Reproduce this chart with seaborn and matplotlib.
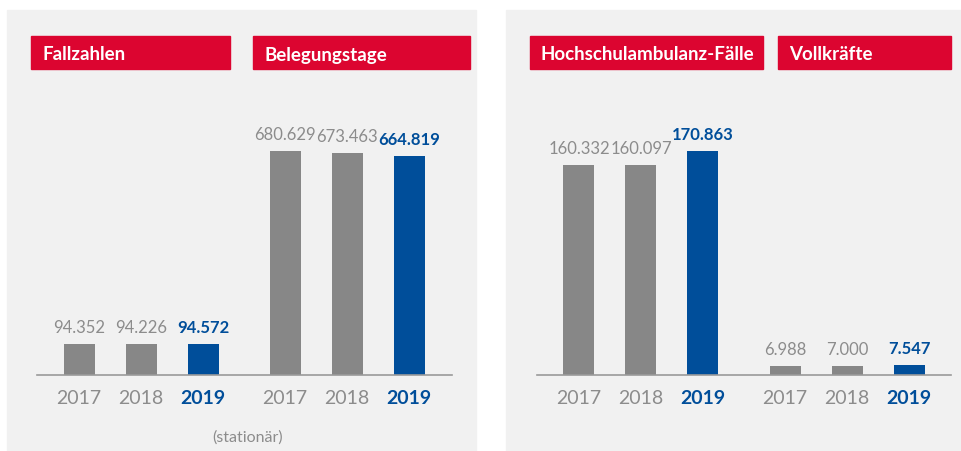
import seaborn as sns
import matplotlib.pyplot as plt
import pandas as pd
from matplotlib.patches import Rectangle

# Daten
years = ['2017', '2018', '2019']
fallzahlen = [94352, 94226, 94572]
belegungstage = [680629, 673463, 664819]
ambulanz = [160332, 160097, 170863]
vollkraefte = [6988, 7000, 7547]

titles_left = ['Fallzahlen', 'Belegungstage']
titles_right = ['Hochschulambulanz-Fälle', 'Vollkräfte']

# Farben
RED = '#DC0530'
BLUE = '#004E9A'
GRAY_BAR = '#878787'
GRAY_TXT = '#8C8C8C'
PANEL = '#F1F1F1'
palette = {'2017': GRAY_BAR, '2018': GRAY_BAR, '2019': BLUE}

sns.set_style('white')
plt.rcParams['font.family'] = ['Lato', 'DejaVu Sans']

W, H = 962, 452
fig = plt.figure(figsize=(W / 100, H / 100), dpi=100)


def fx(px):
    return px / W


def fy(py):
    return 1 - py / H


def fmt(v):
    return f'{v:,}'.replace(',', '.')


def panel(x0, x1, base_x0, base_x1, series, titles, boxes):
    # grauer Hintergrund
    fig.patches.append(Rectangle((fx(x0), 0), fx(x1) - fx(x0), fy(11),
                                 transform=fig.transFigure, color=PANEL, zorder=-2))
    # rote Titelboxen
    for title, (bx0, bx1) in zip(titles, boxes):
        fig.patches.append(Rectangle((fx(bx0), fy(70)), fx(bx1) - fx(bx0), 33 / H,
                                     transform=fig.transFigure, color=RED, zorder=-1))
        fig.text(fx(bx0 + 11), fy(55), title, color='white', fontsize=13.5,
                 fontweight='bold', va='center', ha='left')

    rows = []
    for gi, vals in enumerate(series):
        for yi, (yr, v) in enumerate(zip(years, vals)):
            rows.append({'pos': gi * 3.323 + yi, 'value': v, 'year': yr})
    df = pd.DataFrame(rows)

    ax = fig.add_axes([fx(base_x0), fy(376), fx(base_x1) - fx(base_x0), (376 - 11) / H])
    ax.set_facecolor('none')
    sns.barplot(data=df, x='pos', y='value', hue='year', palette=palette,
                native_scale=True, dodge=False, width=0.5, legend=False,
                saturation=1, linewidth=0, ax=ax)

    # erster Balken sitzt 42 px rechts vom Linienanfang
    span = (base_x1 - base_x0) / 62
    ax.set_xlim(-42.0 / 62, -42.0 / 62 + span)
    vmax = df['value'].max()
    ax.set_ylim(0, vmax * 365 / 224)

    for _, r in df.iterrows():
        bold = r['year'] == '2019'
        ax.annotate(fmt(r['value']), (r['pos'], r['value']), xytext=(0, 12.2),
                    textcoords='offset points', ha='center', va='center',
                    fontsize=12, color=BLUE if bold else GRAY_TXT,
                    fontweight='bold' if bold else 'normal')

    ax.set_xticks(df['pos'])
    ax.set_xticklabels(df['year'])
    for lab, yr in zip(ax.get_xticklabels(), df['year']):
        lab.set_fontsize(14)
        if yr == '2019':
            lab.set_color(BLUE)
            lab.set_fontweight('bold')
        else:
            lab.set_color(GRAY_TXT)
    ax.tick_params(axis='x', length=0, pad=10)
    ax.set_yticks([])
    ax.set_xlabel('')
    ax.set_ylabel('')
    for s in ['top', 'left', 'right']:
        ax.spines[s].set_visible(False)
    ax.spines['bottom'].set_color('#9A9A9A')
    ax.spines['bottom'].set_linewidth(1.2)
    return ax


panel(7, 476, 37, 452, [fallzahlen, belegungstage], titles_left,
      [(31, 230), (253, 470)])
panel(506, 962, 537, 951, [ambulanz, vollkraefte], titles_right,
      [(530, 763), (778, 951)])

fig.text(fx(248), fy(438), '(stationär)', color=GRAY_TXT, fontsize=11.5,
         ha='center', va='center')

fig.savefig('out.png', dpi=100)
